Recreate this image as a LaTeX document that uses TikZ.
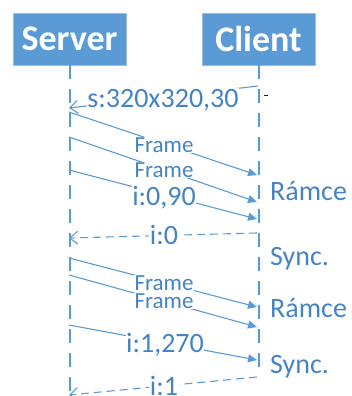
\documentclass[tikz,border=0pt]{standalone}
\usepackage{fontspec}
\setmainfont{Carlito}
\usetikzlibrary{arrows.meta}
\definecolor{boxblue}{HTML}{5B9BD5}
\definecolor{boxedge}{HTML}{A3BCD6}
\definecolor{msgblue}{HTML}{5B9BD5}
\definecolor{txtblue}{HTML}{4584C4}
\tikzset{
  actor/.style={draw=boxedge, line width=0.8pt, fill=boxblue, text=white,
    font=\fontsize{36}{40}\selectfont\bfseries, minimum width=113pt,
    minimum height=52pt, inner sep=0pt},
  lifeline/.style={draw=msgblue, line width=2pt, dash pattern=on 14pt off 10pt},
  msg/.style={draw=msgblue, line width=1.1pt, -{Triangle[length=9pt,width=8pt]}},
  reply/.style={draw=msgblue, line width=1.1pt, dash pattern=on 8pt off 5pt,
    -{Straight Barb[length=8pt,width=13pt]}},
  openmsg/.style={draw=msgblue, line width=1.1pt, -{Straight Barb[length=8pt,width=13pt]}},
  lbl/.style={fill=white, text=txtblue, inner sep=0.5pt, anchor=base,
    font=\fontsize{28}{30}\selectfont},
  smalllbl/.style={lbl, font=\fontsize{23}{25}\selectfont},
  side/.style={text=txtblue, inner sep=0pt, anchor=base west,
    font=\fontsize{28}{30}\selectfont}
}
\begin{document}
\begin{tikzpicture}[x=1pt,y=-1pt]
\useasboundingbox (0,0) rectangle (351,396);

% participants
\node[actor] (server) at (69.5,39) {Server};
\node[actor] (client) at (258.5,39) {Client};

% lifelines
\coordinate (sEnd) at (69.5,400);
\coordinate (cEnd) at (258.5,377);
\draw[lifeline] (server.south) -- (sEnd);
\draw[lifeline] (client.south) -- (cEnd);

% message end points on the lifelines
\coordinate (c1) at (258,86);   \coordinate (s1) at (69,108);
\coordinate (s2) at (69,112);   \coordinate (c2) at (257,175);
\coordinate (s3) at (69,137);   \coordinate (c3) at (257,202);
\coordinate (s4) at (69,170);   \coordinate (c4) at (257,219);
\coordinate (c5) at (257,233);  \coordinate (s5) at (69,238);
\coordinate (s6) at (69,258);   \coordinate (c6) at (257,307);
\coordinate (s7) at (69,275);   \coordinate (c7) at (257,327);
\coordinate (s8) at (69,325);   \coordinate (c8) at (257,360);
\coordinate (c9) at (257,377);  \coordinate (s9) at (69,395);

% messages
\draw[openmsg] (c1) -- (s1);
\draw[msg] (s2) -- (c2);
\draw[msg] (s3) -- (c3);
\draw[msg] (s4) -- (c4);
\draw[reply] (c5) -- (s5);
\draw[msg] (s6) -- (c6);
\draw[msg] (s7) -- (c7);
\draw[msg] (s8) -- (c8);
\draw[reply] (c9) -- (s9);

% small mark beside the first message
\coordinate (tickA) at (264,95); \coordinate (tickB) at (268,95);
\draw[blue, line width=0.8pt] (tickA) -- (tickB);

% message labels
\node[lbl] (l1) at (163,107) {s:320x320,30};
\node[smalllbl] (l2) at (164,152) {Frame};
\node[smalllbl] (l3) at (164,177) {Frame};
\node[lbl] (l4) at (164,205) {i:0,90};
\node[lbl] (l5) at (164,244) {i:0};
\node[smalllbl] (l7) at (164,308) {Frame};
\node[smalllbl] (l6) at (164,290) {Frame};
\node[lbl] (l8) at (165,352) {i:1,270};
\node[lbl] (l9) at (164,395) {i:1};

% side notes
\node[side] (n1) at (270,200) {Rámce};
\node[side] (n2) at (270,265) {Sync.};
\node[side] (n3) at (270,317) {Rámce};
\node[side] (n4) at (270,373) {Sync.};
\end{tikzpicture}
\end{document}
